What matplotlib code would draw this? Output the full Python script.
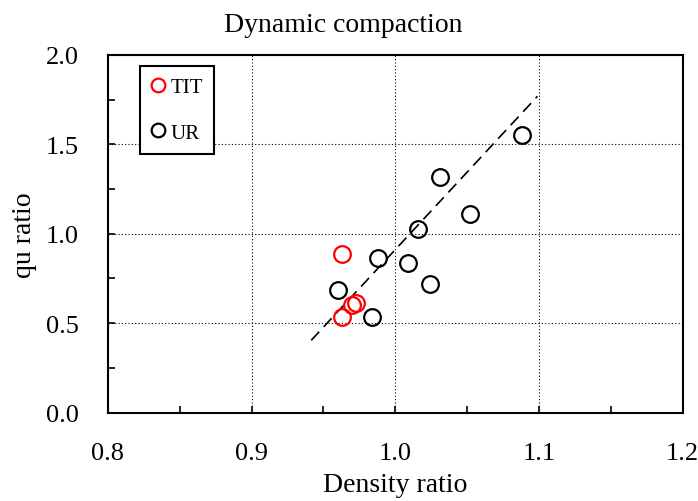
import matplotlib
matplotlib.use("Agg")
import matplotlib.pyplot as plt
from matplotlib.ticker import MultipleLocator, FormatStrFormatter

plt.rcParams['font.family'] = ['Liberation Serif', 'DejaVu Serif']

# Data
tit_x = [0.963, 0.973, 0.970, 0.963]
tit_y = [0.885, 0.615, 0.599, 0.535]
ur_x = [1.088, 1.031, 1.052, 1.016, 0.988, 1.009, 1.024, 0.960, 0.984]
ur_y = [1.555, 1.320, 1.109, 1.028, 0.866, 0.836, 0.719, 0.688, 0.532]
fit_x = [0.9415, 1.099]
fit_y = [0.404, 1.769]

W, H = 698, 502
fig = plt.figure(figsize=(W / 100, H / 100), dpi=100)
ax = fig.add_axes([108 / W, 1 - 413.5 / H, 574.5 / W, 357.5 / H])

ax.plot(fit_x, fit_y, color='black', linestyle=(0, (7, 4)), linewidth=1.2, zorder=2)
ax.plot(tit_x, tit_y, linestyle='none', marker='o', markersize=12, markerfacecolor='none',
        markeredgecolor='red', markeredgewidth=1.6, label='TIT', zorder=3)
ax.plot(ur_x, ur_y, linestyle='none', marker='o', markersize=12, markerfacecolor='none',
        markeredgecolor='black', markeredgewidth=1.6, label='UR', zorder=3)

ax.set_xlim(0.8, 1.2)
ax.set_ylim(0.0, 2.0)
ax.xaxis.set_major_locator(MultipleLocator(0.1))
ax.xaxis.set_minor_locator(MultipleLocator(0.05))
ax.yaxis.set_major_locator(MultipleLocator(0.5))
ax.yaxis.set_minor_locator(MultipleLocator(0.25))
ax.xaxis.set_major_formatter(FormatStrFormatter('%.1f'))
ax.yaxis.set_major_formatter(FormatStrFormatter('%.1f'))
ax.tick_params(which='both', direction='in', width=1.2, labelsize=19)
ax.tick_params(which='major', length=5, pad=21)
ax.tick_params(which='minor', length=5)
ax.grid(True, which='major', color='black', linestyle=(0, (1, 2)), linewidth=0.8)
for s in ax.spines.values():
    s.set_linewidth(1.5)

ax.set_xlabel('Density ratio', fontsize=20, labelpad=6)
ax.set_ylabel('qu ratio', fontsize=20, labelpad=6)
fig.text(343 / W, 1 - 32 / H, 'Dynamic compaction', fontsize=20, ha='center', va='baseline')

leg = ax.legend(loc='upper left', bbox_to_anchor=((140 - 108) / 574.5, (413.5 - 67) / 357.5),
                fancybox=False, edgecolor='black', framealpha=1, fontsize=15,
                markerscale=0.82, handlelength=0.6, handletextpad=0.3, labelspacing=1.25,
                borderpad=0.55, borderaxespad=0)
leg.get_frame().set_linewidth(1.5)

fig.savefig('out.png', dpi=100)
